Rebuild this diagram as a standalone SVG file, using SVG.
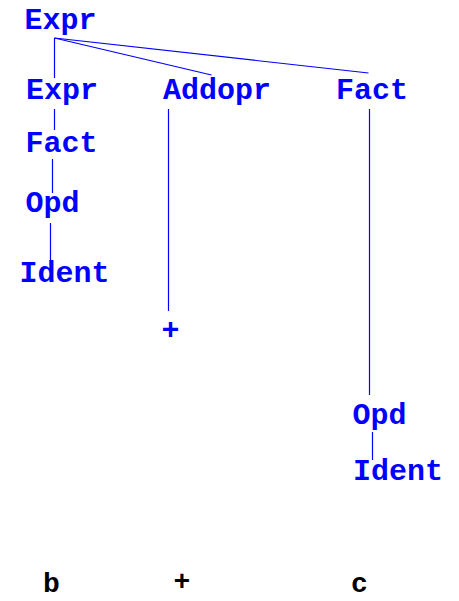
<svg xmlns="http://www.w3.org/2000/svg" width="459" height="601" viewBox="0 0 459 601">
<style>
text{font-family:"Liberation Mono","Courier New",monospace;font-weight:bold;font-size:30px;text-anchor:middle}
.n text{fill:#0000ff}
.leaf{fill:#000000;font-size:28px}
.e line{stroke:#0000ff;stroke-width:1.2}
</style>
<rect width="459" height="601" fill="#ffffff"/>
<g class="e" id="connectors">
<line x1="54.5" y1="38" x2="54.5" y2="78"/>
<line x1="54.5" y1="38" x2="211.5" y2="75"/>
<line x1="54.5" y1="38" x2="368.5" y2="73"/>
<line x1="54.5" y1="109" x2="54.5" y2="130"/>
<line x1="52.5" y1="159" x2="52.5" y2="193"/>
<line x1="50.5" y1="223" x2="50.5" y2="262"/>
<line x1="168.5" y1="109" x2="168.5" y2="311"/>
<line x1="369.5" y1="109" x2="369.5" y2="395"/>
<line x1="372.5" y1="432" x2="372.5" y2="460"/>
</g>
<g class="n" id="n-expr-root"><text x="60.5" y="29">Expr</text></g>
<g class="n" id="n-expr"><text x="62" y="99">Expr</text></g>
<g class="n" id="n-addopr"><text x="217" y="99">Addopr</text></g>
<g class="n" id="n-fact-r"><text x="372" y="99">Fact</text></g>
<g class="n" id="n-fact-l"><text x="61.5" y="152">Fact</text></g>
<g class="n" id="n-opd-l"><text x="52.5" y="212">Opd</text></g>
<g class="n" id="n-ident-l"><text x="64.5" y="282">Ident</text></g>
<g class="n" id="n-plus"><text x="170.5" y="339">+</text></g>
<g class="n" id="n-opd-r"><text x="379.5" y="424">Opd</text></g>
<g class="n" id="n-ident-r"><text x="398" y="480">Ident</text></g>
<g id="leaf-b"><text class="leaf" x="51.5" y="592">b</text></g>
<g id="leaf-plus"><text class="leaf" x="182" y="590">+</text></g>
<g id="leaf-c"><text class="leaf" x="359.5" y="592">c</text></g>
</svg>
